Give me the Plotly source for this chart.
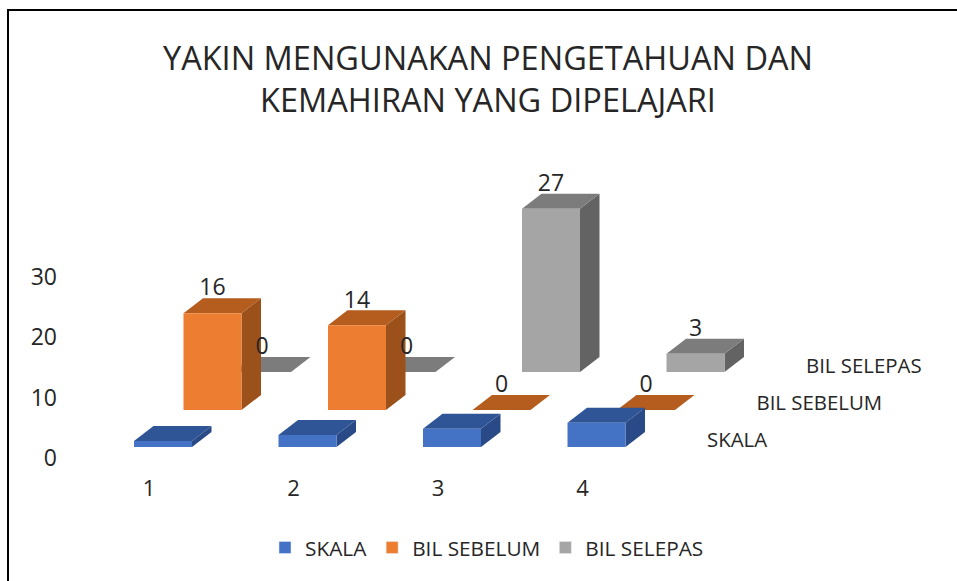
import plotly.graph_objects as go

categories = [1, 2, 3, 4]
series_names = ["SKALA", "BIL SEBELUM", "BIL SELEPAS"]
skala = [1, 2, 3, 4]
bil_sebelum = [16, 14, 0, 0]
bil_selepas = [0, 0, 27, 3]
y_ticks = [0, 10, 20, 30]

front = ["#4472C4", "#ED7D31", "#A5A5A5"]
top = ["#2F5597", "#B55D1F", "#7C7C7C"]
side = ["#294A86", "#9C511B", "#636363"]
text_col = "#262626"
FONT = "Open Sans"

W, H = 957, 581
L, B = 58, 108
PX_X = 144.5      # px per category
PX_Y = 6.05       # px per value unit
plot_w, plot_h = W - L, H - B
x0 = 1 - (149 - L) / PX_X
x1 = x0 + plot_w / PX_X
y0 = -(H - B - 458) / PX_Y
y1 = y0 + plot_h / PX_Y

# oblique projection, in axis units
bar_w = 58 / PX_X
start = -15 / PX_X
ser_dx = 49.5 / PX_X
ser_dy = [11 / PX_Y, 48 / PX_Y, 86 / PX_Y]
dep_x = 19.5 / PX_X
dep_y = 15 / PX_Y

fig = go.Figure()
all_vals = [skala, bil_sebelum, bil_selepas]


def face(xs, ys, col, z):
    fig.add_trace(go.Scatter(x=xs, y=ys, mode="none", fill="toself", fillcolor=col, zorder=z,
                             showlegend=False, hoverinfo="skip"))


# painter's order: back series first
for i in [2, 1, 0]:
    z = 2 - i
    for c, v in zip(categories, all_vals[i]):
        a = c + start + i * ser_dx
        b = a + bar_w
        lo = ser_dy[i]
        hi = lo + v
        if v > 0:
            face([b, b + dep_x, b + dep_x, b, b], [lo, lo + dep_y, hi + dep_y, hi, lo], side[i], z)
        face([a, b, b + dep_x, a + dep_x, a], [hi, hi, hi + dep_y, hi + dep_y, hi], top[i], z)
        if v > 0:
            face([a, b, b, a, a], [lo, lo, hi, hi, lo], front[i], z)

# value labels (SKALA is not labelled in the chart)
for i in [1, 2]:
    fig.add_trace(go.Scatter(
        x=[c + start + i * ser_dx + bar_w / 2 for c in categories],
        y=[ser_dy[i] + v + dep_y + 8.5 / PX_Y for v in all_vals[i]],
        text=[str(v) for v in all_vals[i]],
        mode="text", textposition="middle center", zorder=3,
        textfont=dict(family=FONT, size=23, color=text_col),
        showlegend=False, hoverinfo="skip"))

# depth axis labels
fig.add_trace(go.Scatter(
    x=[1 + (707 - 149) / PX_X + i * ser_dx for i in range(3)],
    y=[(458 - 442) / PX_Y + i * 37 / PX_Y for i in range(3)],
    text=series_names, mode="text", textposition="middle right", zorder=3,
    textfont=dict(family=FONT, size=20.4, color=text_col),
    showlegend=False, hoverinfo="skip"))

# legend entries
for i, name in enumerate(series_names):
    fig.add_trace(go.Bar(x=[None], y=[None], name=name, marker_color=front[i]))


def px(x):
    return (x - L) / plot_w


def py(y):
    return (H - B - y) / plot_h


fig.update_layout(
    width=W, height=H,
    margin=dict(l=L, r=0, t=0, b=B, autoexpand=False),
    paper_bgcolor="white", plot_bgcolor="white",
    font=dict(family=FONT, color=text_col),
    title=dict(text="YAKIN MENGUNAKAN PENGETAHUAN DAN<br>KEMAHIRAN YANG DIPELAJARI",
               x=488 / W, xanchor="center", y=1 - 69.5 / H, yanchor="middle",
               font=dict(family=FONT, size=32.5, color=text_col)),
    xaxis=dict(range=[x0, x1], tickvals=categories, ticklen=0, showgrid=False,
               zeroline=False, showline=False, fixedrange=True,
               tickfont=dict(family=FONT, size=22, color=text_col)),
    yaxis=dict(range=[y0, y1], tickvals=y_ticks, ticklen=0, showgrid=False,
               zeroline=False, showline=False, fixedrange=True,
               tickfont=dict(family=FONT, size=23, color=text_col)),
    legend=dict(orientation="h", x=px(487), xanchor="center", y=py(548), yanchor="middle",
                font=dict(family=FONT, size=20.8, color=text_col), bgcolor="rgba(0,0,0,0)"),
    shapes=[
        dict(type="rect", xref="paper", yref="paper", x0=px(7), x1=px(9), y0=py(581), y1=py(9),
             fillcolor="black", line_width=0, layer="above"),
        dict(type="rect", xref="paper", yref="paper", x0=px(7), x1=px(957), y0=py(11), y1=py(9),
             fillcolor="black", line_width=0, layer="above"),
    ],
)

fig.write_html("out.html", config=dict(displayModeBar=False),
               post_script="document.body.style.margin='0';document.body.style.overflow='hidden';")
